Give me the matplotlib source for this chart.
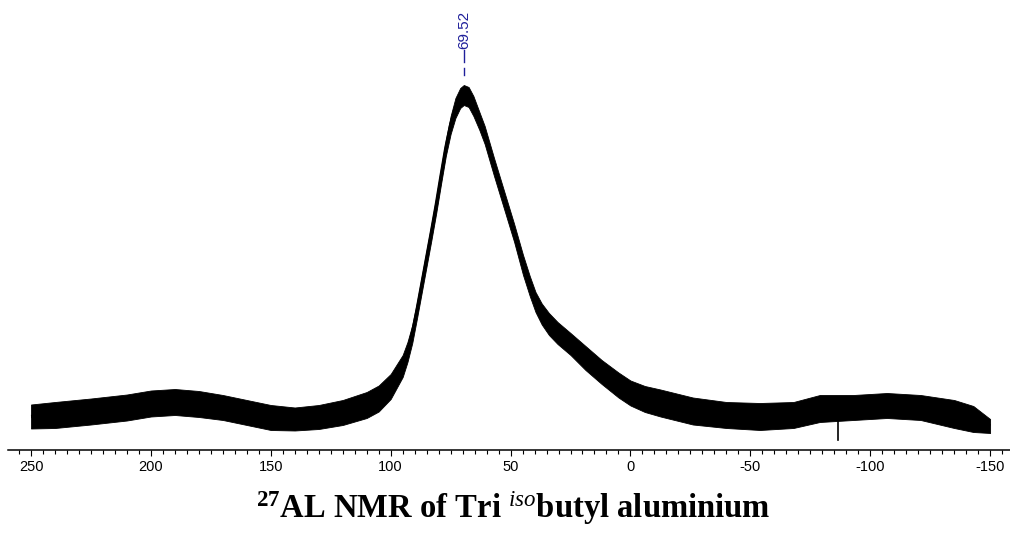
import matplotlib
matplotlib.use("Agg")
import matplotlib.pyplot as plt
from matplotlib.ticker import MultipleLocator, FuncFormatter

# ---- data (ppm, intensity, noise half-width) ----
ppm = [250, 240, 225, 210, 200, 190, 180, 170, 160, 150, 140, 130, 120, 110,
       105, 100, 95, 93, 91, 89, 87, 85, 83, 81, 79, 77, 75, 73, 71, 69.5,
       67.5, 65.5, 63, 60.8, 56.9, 52.7, 48.5, 44.8, 42, 39.6, 37, 34, 30.4,
       25, 18.75, 12, 5, 0, -6, -12.5, -26, -40, -54, -68, -79, -93, -107,
       -121, -135, -143, -150]
intensity = [33.5, 35, 38.5, 42.5, 46.5, 48, 46, 42.5, 37.5, 32.5, 31, 33,
             37.5, 45, 51.5, 63.5, 84, 98, 116, 140, 166, 192, 218, 245, 274,
             302, 325, 342, 352, 355, 353, 344, 329, 315, 283, 250, 217, 185,
             164, 148, 136, 126, 117, 106, 92, 78, 65, 57, 51, 47, 39, 35,
             33.5, 35, 41.5, 42.5, 44.5, 42.5, 36, 31, 24]
noise = [12, 13, 13, 13, 13, 13, 13, 12.5, 12.5, 12.5, 11.5, 12, 12.5, 13,
         13, 12.5, 11, 10, 9, 8, 8, 8, 8, 8, 8, 8, 9, 10, 10, 10, 10, 10, 9,
         9, 9, 9, 9, 10, 10, 10, 10.5, 11, 11, 11, 12, 12, 12.5, 12.5, 13,
         13.5, 13.5, 13, 13.5, 13, 13.5, 12.5, 12.5, 12.5, 14, 13, 7]
spike_ppm = [-86.7, -86.7]
spike_int = [30, 10]

peak_ppm = 69.52
peak_label = "69.52"

# ---- figure ----
fig = plt.figure(figsize=(10.1, 5.33), dpi=100)
ax = fig.add_axes([8 / 1010, 83 / 533, 1002 / 1010, 450 / 533])

lower = [c - n for c, n in zip(intensity, noise)]
upper = [c + n for c, n in zip(intensity, noise)]
ax.fill_between(ppm, lower, upper, color="black", lw=0.6)
ax.plot(ppm, intensity, color="black", lw=2.4, solid_joinstyle="round",
        solid_capstyle="butt")
ax.plot(spike_ppm, spike_int, color="black", lw=1.2)

ax.set_xlim(259.6, -158.3)
ax.set_ylim(0, 450)

for s in ["top", "left", "right"]:
    ax.spines[s].set_visible(False)
ax.spines["bottom"].set_linewidth(1.1)
ax.set_yticks([])
ax.xaxis.set_major_locator(MultipleLocator(50))
ax.xaxis.set_minor_locator(MultipleLocator(5))
ax.xaxis.set_major_formatter(FuncFormatter(lambda v, p: f"{v:.0f}"))
ax.tick_params(axis="x", which="major", length=4.5, width=0.8, pad=3,
               labelsize=10.5, direction="out")
ax.tick_params(axis="x", which="minor", length=3.2, width=0.8, direction="out")
for lab in ax.get_xticklabels():
    lab.set_fontfamily("Liberation Sans")

# peak label
navy = "#1f1f9a"
ax.text(peak_ppm, 401, peak_label, rotation=90, ha="center", va="bottom",
        color=navy, fontsize=11, family="Liberation Sans")
ax.plot([peak_ppm, peak_ppm], [400, 388], color=navy, lw=1.0)
ax.plot([peak_ppm, peak_ppm], [382, 375], color=navy, lw=1.0)

# title
plt.rcParams["mathtext.fontset"] = "custom"
plt.rcParams["mathtext.rm"] = "Liberation Serif:bold"
plt.rcParams["mathtext.bf"] = "Liberation Serif:bold"
plt.rcParams["mathtext.it"] = "Liberation Serif:italic"
fig.text(0.508, 15 / 533,
         r"$\mathbf{^{27}}$AL NMR of Tri $^{\mathit{iso}}$butyl aluminium",
         ha="center", va="baseline", fontsize=23.5, fontweight="bold",
         family="Liberation Serif")

fig.savefig("out.png", dpi=100)
